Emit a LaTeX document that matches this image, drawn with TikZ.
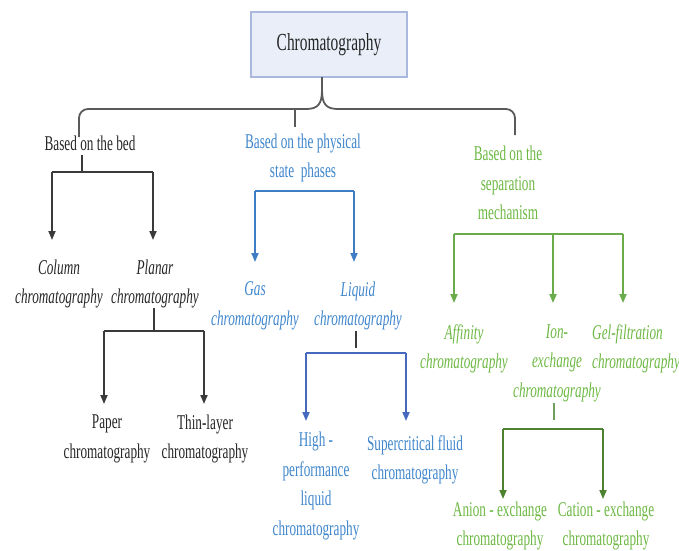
\documentclass[tikz,border=0pt]{standalone}
\usepackage{fontspec}
\setmainfont{Liberation Serif}[FakeStretch=0.63]
\usetikzlibrary{arrows.meta}
\definecolor{tblack}{HTML}{262626}
\definecolor{lblack}{HTML}{3A3A3A}
\definecolor{braceg}{HTML}{5A5A5A}
\definecolor{tblue}{HTML}{3F86CC}
\definecolor{lblue}{HTML}{3F7CC6}
\definecolor{lblue2}{HTML}{4569BF}
\definecolor{tgreen}{HTML}{6DB843}
\definecolor{lgreen}{HTML}{6AAB4C}
\definecolor{lgreen2}{HTML}{4F8230}
\definecolor{boxfill}{HTML}{E9EEF9}
\definecolor{boxline}{HTML}{A9B8DC}
\begin{document}
\begin{tikzpicture}[x=1pt,y=-1pt,
  lbl/.style={inner sep=0pt,align=center,font=\fontsize{21}{29.5}\selectfont},
  it/.style={lbl,font=\fontsize{21}{29.5}\selectfont\itshape},
  arr/.style={line width=1.8pt,-{Triangle[length=9pt,width=7pt]}},
  bar/.style={line width=1.8pt}]
\useasboundingbox (0,0) rectangle (679,550);
% title
\node[draw=boxline,fill=boxfill,line width=1.2pt,minimum width=156pt,minimum height=65pt,
  font=\fontsize{24.5}{28}\selectfont,text=tblack] (title) at (329,44.5) {Chromatography};
% level 1
\node[lbl,text=tblack] (bed) at (90,143) {Based on the bed};
\node[lbl,text=tblue] (phys) at (303,158) {Based on the physical\\state\ \ phases};
\node[lbl,text=tgreen] (sep) at (508,183) {Based on the\\separation\\mechanism};
% level 2
\node[it,text=tblack] (column) at (59,284) {Column\\chromatography};
\node[it,text=tblack] (planar) at (155,284) {Planar\\chromatography};
\node[it,text=tblue] (gas) at (255,306) {Gas\\chromatography};
\node[it,text=tblue] (liquid) at (358,306) {Liquid\\chromatography};
\node[it,text=tgreen] (affinity) at (464,349) {Affinity\\chromatography};
\node[it,text=tgreen] (ion) at (557,363) {Ion-\\exchange\\chromatography};
\node[it,text=tgreen,anchor=west,align=left] (gel) at (592,349) {Gel-filtration\\chromatography};
% level 3
\node[lbl,text=tblack] (paper) at (107,439) {Paper\\chromatography};
\node[lbl,text=tblack] (thin) at (205,439) {Thin-layer\\chromatography};
\node[lbl,text=tblue] (hplc) at (316,486) {High -\\performance\\liquid\\chromatography};
\node[lbl,text=tblue] (scf) at (415,460) {Supercritical fluid\\chromatography};
\node[lbl,text=tgreen] (anion) at (500,526) {Anion - exchange\\chromatography};
\node[lbl,text=tgreen] (cation) at (606,526) {Cation - exchange\\chromatography};
% brace
\coordinate (tip) at (322,77);
\coordinate (bl) at (79,137);
\coordinate (br) at (515,135);
\draw[braceg,line width=1.8pt,rounded corners=9pt]
  (bl) -- (79,109) -- (306,109);
\draw[braceg,line width=1.8pt] (306,109) .. controls (318,109) and (322,104) .. (322,90) -- (tip);
\draw[braceg,line width=1.8pt] (322,90) .. controls (322,104) and (326,109) .. (338,109);
\draw[braceg,line width=1.8pt,rounded corners=9pt]
  (338,109) -- (515,109) -- (br);
\coordinate (ptick) at (295,127);
\draw[braceg,line width=1.2pt] (295,109) -- (ptick);
% bed branch
\coordinate (b1) at (82,172);
\draw[lblack,line width=1.5pt] (82,155) -- (b1);
\draw[lblack,bar] (52,172) -- (153,172);
\draw[lblack,arr] (52,172) -- (52,240);
\draw[lblack,arr] (153,172) -- (153,240);
% planar branch
\coordinate (b2) at (154,331);
\draw[lblack,line width=1.2pt] (154,308) -- (b2);
\draw[lblack,bar] (104,331) -- (204,331);
\draw[lblack,arr] (104,331) -- (104,404);
\draw[lblack,arr] (204,331) -- (204,404);
% physical branch
\draw[lblue,bar] (255,191) -- (354,191);
\draw[lblue,arr] (255,191) -- (255,262);
\draw[lblue,arr] (354,191) -- (354,262);
% liquid branch
\draw[lblack,line width=1.5pt] (356,331) -- (356,348);
\draw[lblue2,bar] (306,353) -- (406,353);
\draw[lblue2,arr] (306,353) -- (306,421);
\draw[lblue2,arr] (406,353) -- (406,421);
% separation branch
\draw[lgreen,bar] (454,234) -- (623,234);
\draw[lgreen,arr] (454,234) -- (454,303);
\draw[lgreen,arr] (553,234) -- (553,303);
\draw[lgreen,arr] (623,234) -- (623,303);
% ion branch
\draw[lgreen!70!gray,line width=1.2pt] (554,403) -- (554,420);
\draw[lgreen2,bar] (503,429) -- (603,429);
\draw[lgreen2,arr] (503,429) -- (503,499);
\draw[lgreen2,arr] (603,429) -- (603,499);
\end{tikzpicture}
\end{document}
